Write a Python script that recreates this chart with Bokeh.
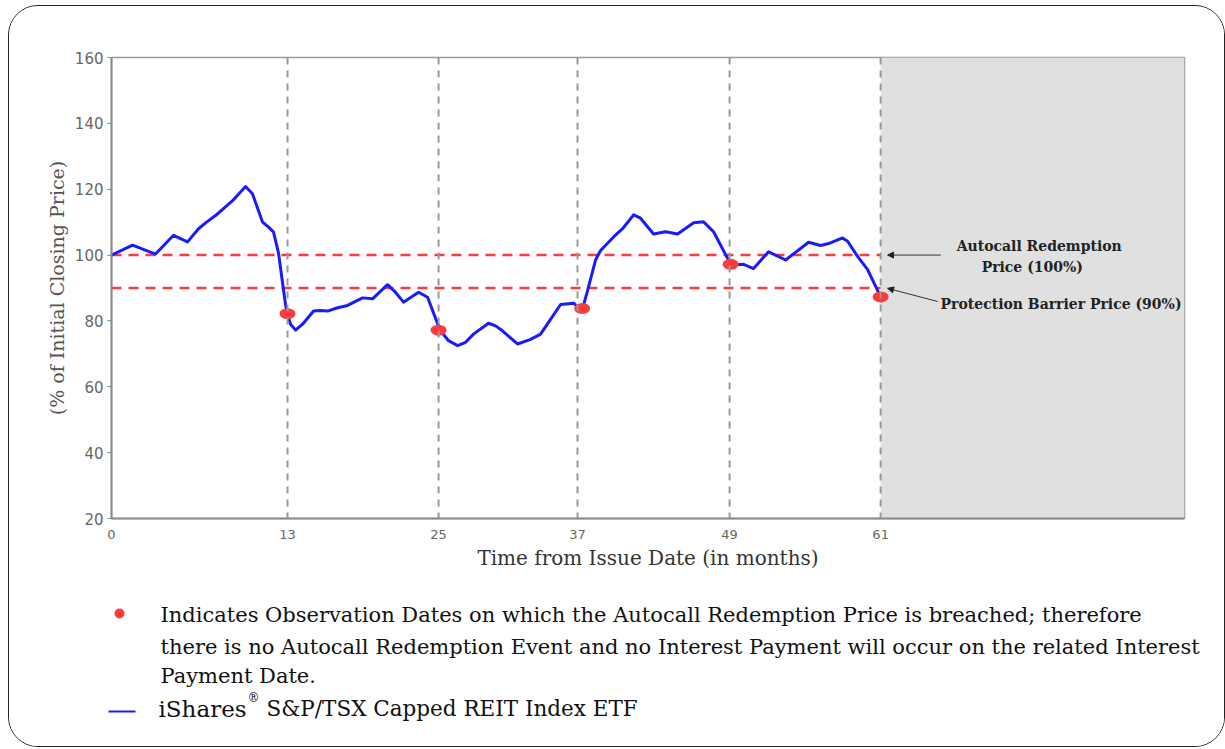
from bokeh.plotting import figure
from bokeh.layouts import column
from bokeh.models import (BoxAnnotation, Span, Label, Arrow, NormalHead,
                          FixedTicker, Range1d)
from bokeh.core.properties import value
from bokeh.embed import file_html
from bokeh.resources import INLINE

# ---- data ----
months = [0.00, 1.67, 3.49, 4.92, 6.03, 6.90, 7.54, 8.25, 9.60, 10.63, 11.18,
          11.98, 12.46, 12.85, 13.25, 13.80, 13.96, 14.20, 14.60, 15.15, 16.03,
          16.58, 17.14, 17.93, 18.72, 19.91, 20.70, 21.89, 22.45, 23.16, 24.35,
          25.07, 25.78, 26.10, 26.73, 27.45, 28.08, 28.71, 29.90, 30.46, 31.01,
          32.20, 33.24, 34.03, 34.74, 35.62, 36.65, 37.04, 37.36, 37.76, 38.39,
          38.79, 39.82, 40.53, 41.41, 41.96, 42.99, 43.94, 44.90, 46.17, 46.96,
          47.75, 48.86, 49.34, 50.13, 50.92, 52.11, 53.46, 55.29, 56.24, 56.87,
          57.98, 58.38, 59.17, 59.97, 61.00]
price = [100.0, 103.0, 100.3, 106.0, 104.0, 108.0, 110.0, 112.0, 116.5, 120.8, 118.6,
         110.0, 108.5, 107.0, 100.5, 85.0, 82.0, 79.0, 77.2, 79.0, 83.0,
         83.2, 83.0, 84.0, 84.7, 87.0, 86.7, 91.0, 89.0, 85.7, 88.7,
         87.2, 80.0, 77.0, 74.0, 72.5, 73.5, 76.0, 79.3, 78.5, 77.0,
         73.0, 74.4, 76.0, 80.0, 85.0, 85.4, 84.0, 83.7, 89.3, 98.5,
         101.4, 105.5, 108.0, 112.2, 111.2, 106.4, 107.1, 106.4, 109.8, 110.1,
         107.1, 99.0, 97.0, 97.2, 95.9, 101.0, 98.5, 103.9, 102.9, 103.5,
         105.2, 104.2, 99.6, 95.6, 87.3]

obs_month = [13.96, 25.94, 37.33, 49.10, 61.00]
obs_price = [82.2, 77.2, 83.8, 97.2, 87.3]

x_tick_pos = [0.0, 13.96, 25.94, 36.96, 49.02, 61.00]
x_tick_labels = ["0", "13", "25", "37", "49", "61"]
y_ticks = [20, 40, 60, 80, 100, 120, 140, 160]

autocall_level = 100
barrier_level = 90

legend_text_lines = [
    "Indicates Observation Dates on which the Autocall Redemption Price is breached; therefore",
    "there is no Autocall Redemption Event and no Interest Payment will occur on the related Interest",
    "Payment Date.",
]
series_name_parts = ["iShares", "®", "S&P/TSX Capped REIT Index ETF"]

BLUE = "#1a1aff"
RED = "#ff3a3a"
W = 1215

p = figure(width=W, height=580, output_backend="svg", toolbar_location=None,
           x_range=Range1d(0, 85.1), y_range=Range1d(20, 160),
           min_border_left=102, min_border_right=40, min_border_top=51,
           min_border_bottom=68)
p.frame_align = False

p.xgrid.visible = False
p.ygrid.visible = False
p.outline_line_color = "#9a9a9a"
p.outline_line_width = 1.5
p.background_fill_color = "white"
p.border_fill_color = "white"

# grey region after final observation
p.add_layout(BoxAnnotation(left=x_tick_pos[-1], fill_color="#e0e0e0", fill_alpha=1.0,
                           line_color=None, level="underlay"))

# observation date verticals
for xv in x_tick_pos[1:]:
    p.add_layout(Span(location=xv, dimension="height", line_color="#999999",
                      line_width=2, line_dash="7 6"))

# level lines
for lev in [autocall_level, barrier_level]:
    p.line([0, x_tick_pos[-1]], [lev, lev], line_color=RED, line_width=2.5,
           line_dash="10 7")

# price line
p.line(months, price, line_color=BLUE, line_width=3, line_join="round")

# observation dots
p.ellipse(x=obs_month, y=obs_price, width=16, height=11, width_units="screen",
          height_units="screen", fill_color=RED, line_color=None)

# axes
for ax in (p.xaxis[0], p.yaxis[0]):
    ax.axis_line_color = "#8a8a8a"
    ax.axis_line_width = 2
    ax.minor_tick_line_color = None
    ax.major_label_text_color = "#666666"
    ax.major_label_text_font = "DejaVu Sans"

p.xaxis.ticker = FixedTicker(ticks=x_tick_pos)
p.xaxis.major_label_overrides = {t: l for t, l in zip(x_tick_pos, x_tick_labels)}
p.xaxis.major_tick_line_color = None
p.xaxis.major_label_text_font_size = "13px"
p.xaxis.major_label_standoff = 5
p.xaxis.axis_label = "Time from Issue Date (in months)"
p.xaxis.axis_label_text_font = "DejaVu Serif"
p.xaxis.axis_label_text_font_style = "normal"
p.xaxis.axis_label_text_font_size = "20px"
p.xaxis.axis_label_text_color = "#333333"
p.xaxis.axis_label_standoff = 4

p.yaxis.ticker = FixedTicker(ticks=y_ticks)
p.yaxis.major_tick_line_color = "#8a8a8a"
p.yaxis.major_tick_out = 4
p.yaxis.major_tick_in = 0
p.yaxis.major_label_text_font_size = "15px"
p.yaxis.major_label_standoff = 4
p.yaxis.axis_label = "(% of Initial Closing Price)"
p.yaxis.axis_label_text_font = "DejaVu Serif"
p.yaxis.axis_label_text_font_style = "normal"
p.yaxis.axis_label_text_font_size = "19px"
p.yaxis.axis_label_text_color = "#555555"
p.yaxis.axis_label_standoff = 4

# annotations on the right
ann_font = "DejaVu Serif"
for txt, xx, yy in [("Autocall Redemption", 67.03, 102.9),
                    ("Price (100%)", 69.01, 96.5),
                    ("Protection Barrier Price (90%)", 65.75, 85.0)]:
    p.add_layout(Label(x=xx, y=yy, text=txt, text_font=ann_font,
                       text_font_style="bold", text_font_size="14px",
                       text_color="#222222", text_baseline="middle"))
p.add_layout(Arrow(end=NormalHead(size=6, fill_color="#222222", line_color="#222222"),
                   x_start=65.76, y_start=autocall_level, x_end=61.55, y_end=autocall_level,
                   line_color="#333333", line_width=1))
p.add_layout(Arrow(end=NormalHead(size=6, fill_color="#222222", line_color="#222222"),
                   x_start=65.52, y_start=85.9, x_end=61.55, y_end=89.9,
                   line_color="#333333", line_width=1))

# ---- legend panel (coordinates = page pixels) ----
leg = figure(width=W, height=160, output_backend="svg", toolbar_location=None,
             x_range=Range1d(9, 9 + W), y_range=Range1d(746, 586),
             min_border=0, min_border_left=0, min_border_right=0,
             min_border_top=0, min_border_bottom=0)
leg.frame_align = False
leg.axis.visible = False
leg.grid.visible = False
leg.outline_line_color = None
leg.background_fill_color = "white"
leg.border_fill_color = "white"

leg_font = value("DejaVu Serif")
leg.text(x=[160, 160, 160], y=[614, 646, 675], text=legend_text_lines,
         text_font=leg_font, text_font_size="21px", text_color="#111111",
         text_baseline="middle")
leg.scatter(x=[119], y=[613], size=10, fill_color=RED, line_color=None)
leg.line(x=[108, 135], y=[711, 711], line_color=BLUE, line_width=2)
leg.text(x=[158], y=[708], text=[series_name_parts[0]], text_font=leg_font,
         text_font_size="23px", text_color="#111111", text_baseline="middle")
leg.text(x=[247], y=[697], text=[series_name_parts[1]], text_font=leg_font,
         text_font_size="12px", text_color="#111111", text_baseline="middle")
leg.text(x=[266], y=[708], text=[series_name_parts[2]], text_font=leg_font,
         text_font_size="21.5px", text_color="#111111", text_baseline="middle")

layout = column(p, leg, spacing=0)
layout.styles = {"border": "1px solid #222222", "border-radius": "30px",
                 "overflow": "hidden", "margin-left": "8px", "margin-top": "5px",
                 "background-color": "white"}

open("out.html", "w").write(file_html(layout, INLINE))
